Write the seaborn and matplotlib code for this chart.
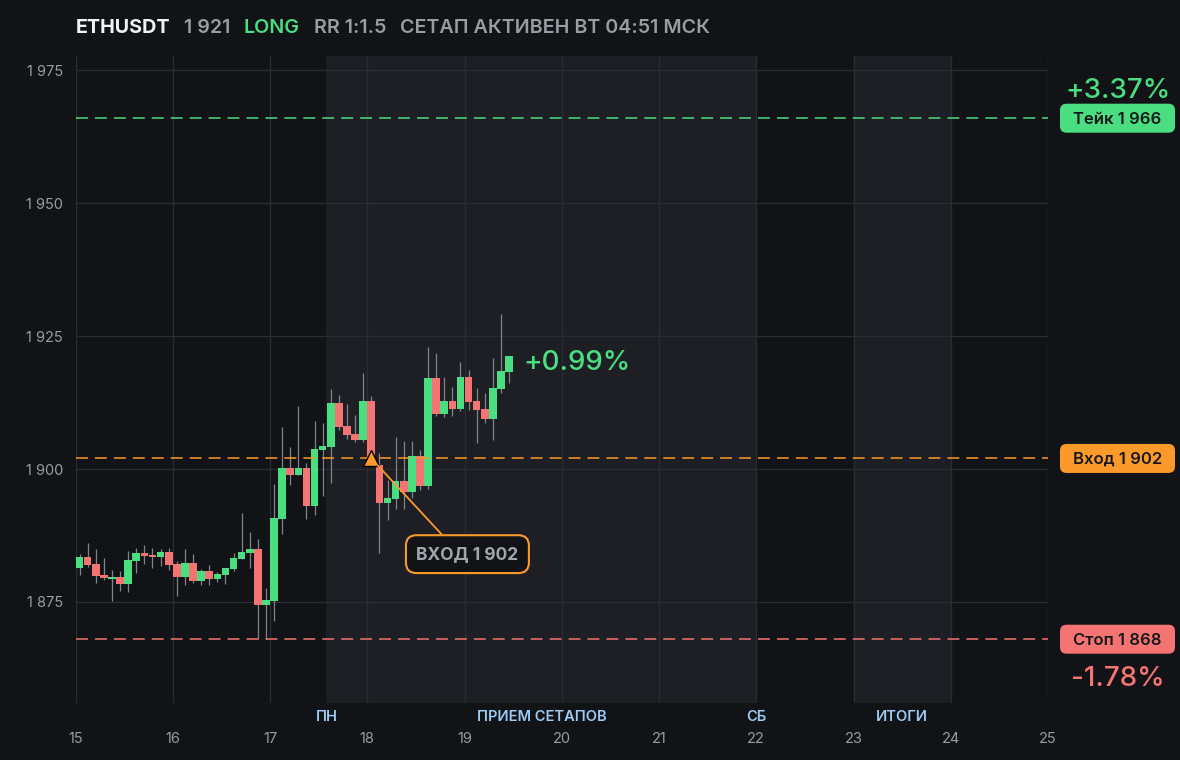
import numpy as np
import pandas as pd
import matplotlib
matplotlib.use("Agg")
import matplotlib.pyplot as plt
from matplotlib.patches import FancyBboxPatch
import seaborn as sns

# --- data (2h candles starting on day 15) ---
opens = [1881.4, 1883.5, 1882.1, 1880.1, 1879.3, 1879.7, 1878.4, 1882.7, 1884.2, 1883.8,
         1883.5, 1884.4, 1882.1, 1879.7, 1882.3, 1878.9, 1880.8, 1879.3, 1880.1, 1881.2,
         1883.1, 1884.2, 1885.0, 1874.4, 1875.2, 1890.6, 1900.2, 1898.9, 1900.2, 1893.1,
         1903.6, 1904.1, 1912.4, 1908.1, 1906.6, 1905.5, 1912.8, 1900.8, 1893.7, 1894.4,
         1897.7, 1895.7, 1902.4, 1896.8, 1917.1, 1910.3, 1912.8, 1911.3, 1917.3, 1912.8,
         1911.3, 1909.4, 1915.0, 1918.2]
highs = [1884.0, 1886.1, 1885.0, 1883.3, 1881.0, 1880.8, 1884.6, 1885.1, 1885.7, 1885.1,
         1885.0, 1885.1, 1882.7, 1885.0, 1884.0, 1881.2, 1882.0, 1880.6, 1881.4, 1884.2,
         1891.7, 1888.2, 1886.8, 1877.6, 1897.2, 1907.9, 1904.1, 1911.8, 1901.1, 1909.0,
         1908.6, 1915.0, 1913.9, 1912.2, 1910.1, 1918.0, 1913.7, 1903.0, 1897.9, 1906.1,
         1905.3, 1905.3, 1903.6, 1922.9, 1921.8, 1917.3, 1915.4, 1920.1, 1918.6, 1915.2,
         1914.3, 1920.9, 1929.1, 1921.2]
lows = [1880.1, 1881.6, 1878.6, 1879.1, 1875.2, 1877.1, 1876.9, 1880.4, 1882.1, 1881.4,
        1881.8, 1881.0, 1876.1, 1878.2, 1878.6, 1878.2, 1878.2, 1878.8, 1878.4, 1880.8,
        1883.1, 1881.4, 1868.0, 1868.0, 1871.4, 1887.8, 1897.0, 1898.9, 1890.6, 1891.4,
        1894.9, 1897.4, 1907.3, 1905.6, 1905.0, 1905.0, 1900.5, 1884.2, 1890.4, 1892.5,
        1892.5, 1894.5, 1896.0, 1896.2, 1910.0, 1909.8, 1910.0, 1910.9, 1911.1, 1904.9,
        1908.6, 1905.4, 1914.3, 1916.2]
closes = [1883.5, 1882.0, 1879.9, 1879.5, 1879.7, 1878.4, 1882.9, 1884.2, 1883.6, 1883.5,
          1884.4, 1881.9, 1879.7, 1882.3, 1878.9, 1880.8, 1879.3, 1880.3, 1881.4, 1883.3,
          1884.4, 1885.0, 1874.4, 1875.4, 1890.8, 1900.2, 1898.9, 1900.2, 1893.1, 1903.8,
          1904.3, 1912.4, 1907.9, 1906.4, 1905.5, 1912.8, 1902.0, 1893.7, 1894.5, 1897.7,
          1895.7, 1902.4, 1896.8, 1917.1, 1910.3, 1912.8, 1911.3, 1917.3, 1912.6, 1911.1,
          1909.4, 1915.2, 1918.4, 1921.2]
start_day = 15
candle_hours = 2

take_price = 1966
entry_price = 1902
stop_price = 1868
take_pct = "+3.37%"
stop_pct = "-1.78%"
last_pct = "+0.99%"
entry_candle = 36

day_ticks = list(range(15, 26))
price_ticks = [1875, 1900, 1925, 1950, 1975]
zones = [(17.58, 22.0), (23.0, 24.0)]
zone_labels = ["ПН", "ПРИЕМ СЕТАПОВ", "СБ", "ИТОГИ"]
zone_label_x = [17.58, 19.79, 22.0, 23.5]

# --- colours ---
BG = "#121317"
SHADE = "#1e1f24"
GRID = "#2a2c31"
GREEN = "#4ade80"
RED = "#f47373"
ORANGE = "#fb9a2a"
GRAY = "#9a9ca3"
WICK = "#80838a"
BLUE = "#9dcbf5"

sns.set_theme(style="dark", rc={"axes.facecolor": BG, "figure.facecolor": BG})
plt.rcParams["font.family"] = ["Inter", "DejaVu Sans"]

df = pd.DataFrame({"open": opens, "high": highs, "low": lows, "close": closes})
step = candle_hours / 24
df["t"] = start_day + (df.index + 0.5) * step
df["up"] = df["close"] >= df["open"]

W, H = 1180, 760
fig = plt.figure(figsize=(W / 100, H / 100), dpi=100)
ax = fig.add_axes([75.5 / W, 1 - 703 / H, (1048 - 75.5) / W, (703 - 56) / H])
ax.set_xlim(15, 25)
ax.set_ylim(1856, 1977.7)

for a, b in zones:
    ax.axvspan(a, b, color=SHADE, lw=0, zorder=0)
ax.set_axisbelow(True)
ax.grid(True, color=GRID, lw=1.0)
for s in ax.spines.values():
    s.set_visible(False)

# candles
colors = np.where(df["up"], GREEN, RED)
ax.vlines(df["t"], df["low"], df["high"], color=WICK, lw=0.9, zorder=2)
body_lo = df[["open", "close"]].min(axis=1)
body_h = (df["close"] - df["open"]).abs().clip(lower=0.35)
ax.bar(df["t"], body_h, bottom=body_lo, width=step * 0.94, color=colors, lw=0, zorder=3)

# level lines
dash = (0, (7.8, 4.6))
for p, c in [(take_price, GREEN), (entry_price, ORANGE), (stop_price, RED)]:
    ax.axhline(p, color=c, lw=1.1, ls=dash, zorder=4)


def fmt(v):
    return f"{v:,}".replace(",", " ")


# ticks
ax.set_xticks(day_ticks)
ax.set_xticklabels([str(d) for d in day_ticks])
ax.set_yticks(price_ticks)
ax.set_yticklabels([fmt(p) for p in price_ticks])
ax.tick_params(axis="y", colors=GRAY, labelsize=10.5, length=0, pad=9)
ax.tick_params(axis="x", colors=GRAY, labelsize=10.5, length=0, pad=21)

for lab, x in zip(zone_labels, zone_label_x):
    ax.text(x, -(717 - 703) / 647, lab, transform=ax.get_xaxis_transform(),
            ha="center", va="center", color=BLUE, fontsize=10.5, fontweight="semibold")

# entry marker + callout
t_entry = df["t"][entry_candle]
ax.plot([t_entry], [entry_price], marker="^", ms=11, color=ORANGE, mec="black",
        mew=1.0, zorder=6)
ax.annotate("ВХОД " + fmt(entry_price), xy=(t_entry, entry_price), xytext=(19.03, 1884.0),
            ha="center", va="center", color="#a3a5ac", fontsize=12.5, fontweight="bold",
            bbox=dict(boxstyle="round,pad=0.6,rounding_size=0.6", fc=BG, ec=ORANGE, lw=1.5),
            arrowprops=dict(arrowstyle="-", color=ORANGE, lw=1.3, shrinkA=0, shrinkB=7,
                            relpos=(0.35, 1.0)),
            zorder=7)

# last move label
ax.text(19.61, df["close"].iloc[-1] - 1.2, last_pct, color=GREEN, fontsize=20,
        fontweight="medium", ha="left", va="center", zorder=6)

# right-side level tags
to_fig = fig.transFigure.inverted()


def fig_y(price):
    return to_fig.transform(ax.transData.transform((15, price)))[1]


box_x0, box_x1 = 1060 / W, 1175 / W
box_h = 29 / H
cx = (box_x0 + box_x1) / 2
for p, c, lab in [(take_price, GREEN, "Тейк " + fmt(take_price)),
                  (entry_price, ORANGE, "Вход " + fmt(entry_price)),
                  (stop_price, RED, "Стоп " + fmt(stop_price))]:
    yc = fig_y(p)
    patch = FancyBboxPatch((box_x0, yc - box_h / 2), box_x1 - box_x0, box_h,
                           boxstyle="round,pad=0,rounding_size=0.0055",
                           mutation_aspect=W / H, transform=fig.transFigure,
                           fc=c, ec="none")
    fig.add_artist(patch)
    fig.text(cx, yc - 1 / H, lab, ha="center", va="center", color="#16171b",
             fontsize=12, fontweight="semibold")

fig.text(cx, fig_y(take_price) + 27 / H, take_pct, ha="center", va="center",
         color=GREEN, fontsize=20, fontweight="medium")
fig.text(cx, fig_y(stop_price) - 40 / H, stop_pct, ha="center", va="center",
         color=RED, fontsize=20, fontweight="medium")

# header
title_y = 1 - 28 / H
header = [("ETHUSDT", "#f2f3f5", "bold", 75.5),
          (fmt(1921), GRAY, "semibold", 184),
          ("LONG", GREEN, "semibold", 244),
          ("RR 1:1.5", GRAY, "semibold", 314.5),
          ("СЕТАП АКТИВЕН ВТ 04:51 МСК", GRAY, "semibold", 400)]
for txt, c, w, x in header:
    fig.text(x / W, title_y, txt, ha="left", va="center", color=c,
             fontsize=14.2, fontweight=w)

fig.savefig("out.png", dpi=100, facecolor=BG)
